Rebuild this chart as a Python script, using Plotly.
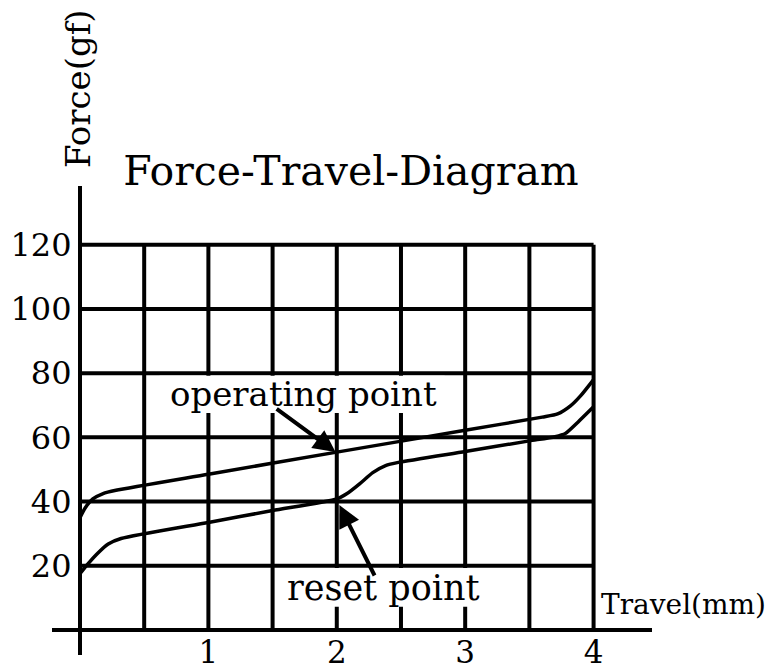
import plotly.graph_objects as go

# ---- data ----
travel_upper = [0, 0.04, 0.1, 0.18, 0.28, 1.0, 2.0, 3.0, 3.6, 3.72, 3.82, 3.9, 4.0]
force_upper = [35, 38, 40.8, 42.5, 43.5, 48.5, 55.4, 62.2, 66.3, 67.3, 69.8, 73, 78]

travel_lower = [0, 0.06, 0.14, 0.22, 0.32, 1.0, 1.5, 2.0, 2.08, 2.18, 2.28, 2.38, 2.48,
                3.0, 3.5, 3.7, 3.78, 3.88, 4.0]
force_lower = [17.5, 20.5, 24, 26.8, 28.5, 33.5, 37.2, 40.8, 42.5, 45.6, 49, 51.2, 52.2,
               55.6, 58.9, 60.2, 61.2, 64.8, 69.5]

grid_x = [0.5, 1, 1.5, 2, 2.5, 3, 3.5, 4]
grid_y = [20, 40, 60, 80, 100, 120]
x_ticks = [1, 2, 3, 4]
y_ticks = [20, 40, 60, 80, 100, 120]

X_MIN, X_MAX = -0.218, 4.455
Y_MIN, Y_MAX = -7.8, 138.3

FONT = "DejaVu Serif"
OFF = 8  # page body margin offset

fig = go.Figure()
for xs, ys in [(travel_upper, force_upper), (travel_lower, force_lower)]:
    fig.add_trace(go.Scatter(x=xs, y=ys, mode="lines",
                             line=dict(color="black", width=3.5, shape="spline", smoothing=0.6),
                             hoverinfo="skip", showlegend=False))

shapes = []
for gx in grid_x:
    shapes.append(dict(type="line", xref="x", yref="y", x0=gx, x1=gx, y0=0, y1=max(grid_y),
                       line=dict(color="black", width=4), layer="below"))
for gy in grid_y:
    shapes.append(dict(type="line", xref="x", yref="y", x0=0, x1=max(grid_x), y0=gy, y1=gy,
                       line=dict(color="black", width=4), layer="below"))
# white label boxes interrupting the grid
shapes.append(dict(type="rect", xref="x", yref="y", x0=0.62, x1=2.84, y0=67.6, y1=79.2,
                   fillcolor="white", line=dict(width=0), layer="below"))
shapes.append(dict(type="rect", xref="x", yref="y", x0=1.56, x1=3.19, y0=7.2, y1=19.3,
                   fillcolor="white", line=dict(width=0), layer="below"))

annotations = [
    dict(text="Force(gf)", xref="x", yref="paper", x=0, y=(655 - 88) / 469.0,
         textangle=-90, showarrow=False, font=dict(family=FONT, size=34, color="black"),
         xanchor="center", yanchor="middle", xshift=-2),
    dict(text="Travel(mm)", xref="x", yref="y", x=4.04, y=7.8, showarrow=False,
         xanchor="left", yanchor="middle", font=dict(family=FONT, size=28, color="black")),
    dict(text="operating point", xref="x", yref="y", x=1.737, y=73.6, showarrow=False,
         xanchor="center", yanchor="middle", font=dict(family=FONT, size=34, color="black")),
    dict(text="reset point", xref="x", yref="y", x=2.36, y=13.1, showarrow=False,
         xanchor="center", yanchor="middle", font=dict(family=FONT, size=35, color="black")),
    # arrows
    dict(text="", x=travel_upper[6] - 0.01, y=force_upper[6], xref="x", yref="y",
         ax=1.52, ay=69.2, axref="x", ayref="y", showarrow=True,
         arrowhead=2, arrowsize=1.1, arrowwidth=4, arrowcolor="black"),
    dict(text="", x=travel_lower[7] + 0.02, y=force_lower[7] - 1.9, xref="x", yref="y",
         ax=2.30, ay=16.5, axref="x", ayref="y", showarrow=True,
         arrowhead=2, arrowsize=1.1, arrowwidth=4, arrowcolor="black"),
]

fig.update_layout(
    width=777, height=665,
    margin=dict(l=52 - OFF, r=125 + OFF, t=186 - OFF, b=10 + OFF),
    paper_bgcolor="white", plot_bgcolor="white",
    title=dict(text="Force-Travel-Diagram", x=(351 - OFF) / 777, xanchor="center",
               y=1 - (171 - OFF) / 665, yanchor="middle", yref="container",
               font=dict(family=FONT, size=41, color="black")),
    shapes=shapes, annotations=annotations,
    xaxis=dict(range=[X_MIN, X_MAX], showgrid=False, zeroline=False,
               showline=True, linecolor="black", linewidth=4,
               anchor="free", position=(0 - Y_MIN) / (Y_MAX - Y_MIN),
               tickvals=x_ticks, ticktext=[str(v) for v in x_ticks], ticks="",
               ticklabelstandoff=-6,
               tickfont=dict(family=FONT, size=31, color="black"), automargin=False),
    yaxis=dict(range=[Y_MIN, Y_MAX], showgrid=False, zeroline=False,
               showline=True, linecolor="black", linewidth=4,
               anchor="free", position=(0 - X_MIN) / (X_MAX - X_MIN),
               tickvals=y_ticks, ticktext=[str(v) for v in y_ticks], ticks="",
               tickfont=dict(family=FONT, size=32, color="black"), automargin=False),
    showlegend=False,
)

fig.write_html("out.html")
